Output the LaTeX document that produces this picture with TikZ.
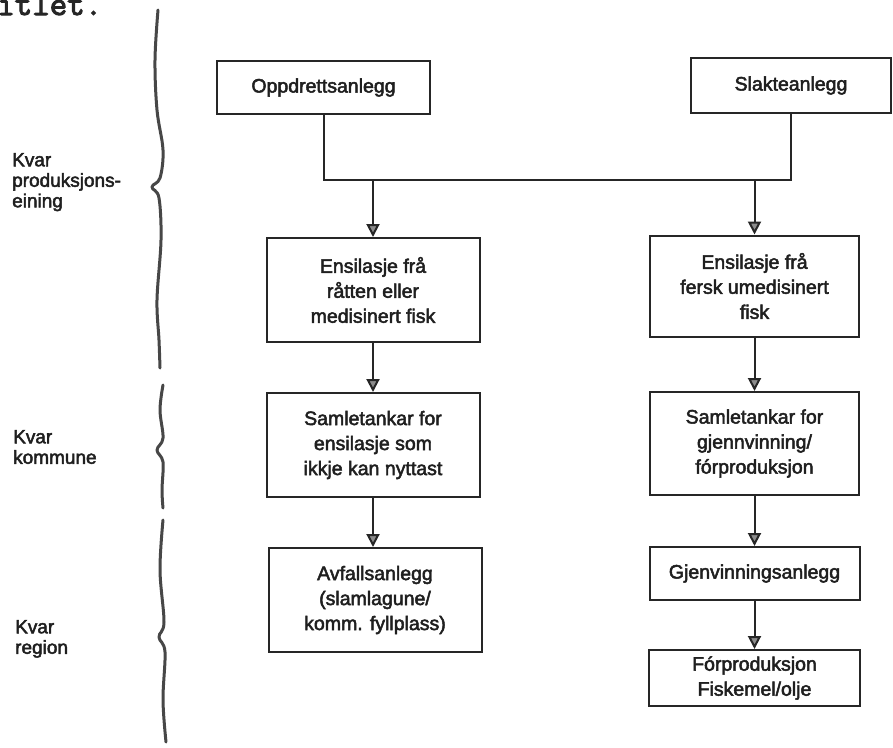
\documentclass[tikz,border=0pt]{standalone}
\usepackage{fontspec}
\setmainfont{Liberation Sans}
\newfontfamily\boxfont{Liberation Sans}[FakeBold=2.5]
\newfontfamily\twfont{Latin Modern Mono}[FakeBold=3]
\usetikzlibrary{arrows.meta}
\begin{document}
\begin{tikzpicture}[x=1pt,y=-1pt,
  box/.style={draw=black!85, line width=2pt, fill=white, align=center,
    inner sep=0pt, text=black!88, font=\boxfont\fontsize{19.5}{25}\selectfont},
  conn/.style={draw=black!85, line width=2pt},
  arr/.style={conn, -{Triangle[width=13pt,length=13pt,fill=black!45]}},
  lbl/.style={align=left, inner sep=0pt, anchor=north west, text=black!88,
    font=\boxfont\fontsize{19}{20.5}\selectfont},
  bracestyle/.style={draw=black!72, line width=3pt, line cap=round, line join=round}]
\useasboundingbox (0,0) rectangle (893,747);
\fill[white] (0,0) rectangle (893,747);

% cut-off typewriter text at the top
\node[anchor=base west, inner sep=0pt, font=\twfont\fontsize{34}{34}\selectfont, text=black!85] (head) at (-3,15) {itlet.};

% top boxes
\node[box, minimum width=213pt, minimum height=53pt] (opp) at (323.5,87.5) {Oppdrettsanlegg};
\node[box, minimum width=200pt, minimum height=55pt] (slakte) at (791,85.5) {Slakteanlegg};

% left column
\node[box, minimum width=213pt, minimum height=104pt] (l1) at (373,290) {Ensilasje frå\\råtten eller\\medisinert fisk};
\node[box, minimum width=213pt, minimum height=104pt] (l2) at (373,445) {Samletankar for\\ensilasje som\\ikkje kan nyttast};
\node[box, minimum width=213pt, minimum height=104pt] (l3) at (375,600) {Avfallsanlegg\\(slamlagune/\\komm. fyllplass)};

% right column
\node[box, minimum width=209pt, minimum height=101pt] (r1) at (754.5,286) {Ensilasje frå\\fersk umedisinert\\fisk};
\node[box, minimum width=209pt, minimum height=103pt] (r2) at (754.5,443.5) {Samletankar for\\gjennvinning/\\fórproduksjon};
\node[box, minimum width=210pt, minimum height=53pt] (r3) at (754.5,573.5) {Gjenvinningsanlegg};
\node[box, minimum width=211pt, minimum height=56pt] (r4) at (754.5,678) {Fórproduksjon\\Fiskemel/olje};

% junction line
\coordinate (jl) at (opp.south |- 0,180);
\coordinate (jr) at (slakte.south |- 0,180);
\draw[conn, line join=miter] (opp.south) -- (jl) -- (jr) -- (slakte.south);
\draw[arr] (l1.north |- jl) -- (l1.north);
\draw[arr] (r1.north |- jr) -- (r1.north);

% vertical flows
\draw[arr] (l1.south) -- (l2.north);
\draw[arr] (l2.south) -- (l3.north -| l2.south);
\draw[arr] (r1.south) -- (r2.north);
\draw[arr] (r2.south) -- (r3.north);
\draw[arr] (r3.south) -- (r4.north);

% level labels
\node[lbl] (lev1) at (12,153) {Kvar\\produksjons-\\eining};
\node[lbl] (lev2) at (13,430) {Kvar\\kommune};
\node[lbl] (lev3) at (15,620) {Kvar\\region};

% hand-drawn braces
\draw[bracestyle] plot[smooth, tension=0.6] coordinates {(158,10) (155,60) (157,110) (163,150) (160,178) (152,187) (159,198) (161,240) (157,300) (159,340) (160,368)};
\draw[bracestyle] plot[smooth, tension=0.6] coordinates {(163,385) (160,410) (163,438) (157,450) (163,462) (162,490) (163,508)};
\draw[bracestyle] plot[smooth, tension=0.6] coordinates {(163,520) (160,570) (164,622) (159,637) (165,652) (163,700) (166,742)};
\end{tikzpicture}
\end{document}
